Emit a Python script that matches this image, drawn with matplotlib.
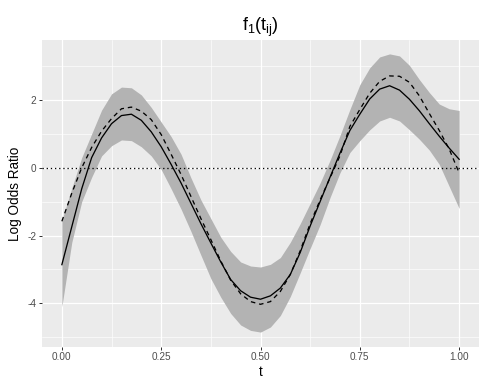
import numpy as np
import matplotlib
matplotlib.use("Agg")
import matplotlib.pyplot as plt
from matplotlib.ticker import FixedLocator

# grid of t values the curves were read at
t = [0.000, 0.025, 0.050, 0.075, 0.100, 0.125, 0.150, 0.175, 0.200, 0.225,
     0.250, 0.275, 0.300, 0.325, 0.350, 0.375, 0.400, 0.425, 0.450, 0.475,
     0.500, 0.525, 0.550, 0.575, 0.600, 0.625, 0.650, 0.675, 0.700, 0.725,
     0.750, 0.775, 0.800, 0.825, 0.850, 0.875, 0.900, 0.925, 0.950, 0.975,
     1.000]

# posterior mean estimate (solid)
estimate = [-2.86, -1.74, -0.62, 0.30, 0.88, 1.30, 1.54, 1.58, 1.40, 1.06,
            0.62, 0.10, -0.45, -1.05, -1.65, -2.22, -2.78, -3.30, -3.63, -3.82,
            -3.88, -3.78, -3.55, -3.15, -2.50, -1.72, -1.00, -0.28, 0.43, 1.10,
            1.58, 2.03, 2.32, 2.42, 2.29, 2.02, 1.68, 1.30, 0.93, 0.58,
            0.25]

# true function (dashed)
truth = [-1.58, -0.75, 0.00, 0.60, 1.08, 1.45, 1.74, 1.79, 1.67, 1.42,
         0.98, 0.40, -0.20, -0.85, -1.50, -2.12, -2.75, -3.32, -3.72, -3.95,
         -4.03, -3.95, -3.65, -3.15, -2.45, -1.65, -0.95, -0.30, 0.35, 1.22,
         1.72, 2.20, 2.55, 2.71, 2.70, 2.52, 2.12, 1.60, 1.10, 0.55,
         -0.15]

# credible band
upper = [-1.55, -0.60, 0.30, 1.00, 1.70, 2.18, 2.38, 2.36, 2.15, 1.78,
         1.35, 0.92, 0.40, -0.30, -0.95, -1.50, -2.05, -2.47, -2.78, -2.90,
         -2.93, -2.85, -2.65, -2.20, -1.65, -1.05, -0.45, 0.22, 0.95, 1.72,
         2.45, 2.95, 3.27, 3.36, 3.30, 3.02, 2.60, 2.22, 1.88, 1.74,
         1.69]
lower = [-4.10, -2.20, -1.00, -0.28, 0.35, 0.65, 0.82, 0.80, 0.62, 0.35,
         -0.05, -0.62, -1.22, -1.88, -2.58, -3.27, -3.82, -4.30, -4.64, -4.80,
         -4.85, -4.70, -4.36, -3.80, -3.10, -2.38, -1.68, -0.88, -0.15, 0.45,
         0.80, 1.12, 1.38, 1.49, 1.38, 1.12, 0.84, 0.52, 0.10, -0.55,
         -1.20]

x_ticks = [0.0, 0.25, 0.5, 0.75, 1.0]
x_labels = ["0.00", "0.25", "0.50", "0.75", "1.00"]
y_ticks = [-4, -2, 0, 2]
y_labels = ["-4", "-2", "0", "2"]

plt.rcParams["font.family"] = ["Liberation Sans", "DejaVu Sans"]
plt.rcParams["axes.unicode_minus"] = False

fig = plt.figure(figsize=(6.75, 390 / 72), dpi=72)
ax = fig.add_axes([42 / 486, 43 / 390, 437 / 486, 307 / 390])
ax.set_facecolor("#EBEBEB")
for s in ax.spines.values():
    s.set_visible(False)

ax.set_xlim(-0.05, 1.05)
ax.set_ylim(-5.29, 3.77)

ax.xaxis.set_major_locator(FixedLocator(x_ticks))
ax.xaxis.set_minor_locator(FixedLocator([0.125, 0.375, 0.625, 0.875]))
ax.yaxis.set_major_locator(FixedLocator(y_ticks))
ax.yaxis.set_minor_locator(FixedLocator([-5, -3, -1, 1, 3]))
ax.set_xticklabels(x_labels)
ax.set_yticklabels(y_labels)

ax.grid(which="major", color="white", lw=1.2)
ax.grid(which="minor", color="white", lw=0.6)
ax.set_axisbelow(True)
ax.tick_params(which="major", length=3, width=1.0, color="#333333",
               labelcolor="#4D4D4D", labelsize=10, pad=2.5)
ax.tick_params(which="minor", length=0)

ax.fill_between(t, lower, upper, color="#B3B3B3", lw=0, zorder=2)
ax.axhline(0, color="black", lw=1.3, ls=(0, (1, 2.2)), zorder=3)
ax.plot(t, truth, color="black", lw=1.3, ls=(0, (3.5, 3)), zorder=4,
        solid_joinstyle="round")
ax.plot(t, estimate, color="black", lw=1.3, zorder=5, solid_joinstyle="round")

ax.set_xlabel("t", fontsize=13.5, labelpad=2)
ax.set_ylabel("Log Odds Ratio", fontsize=13.5, labelpad=5)
ax.set_title(r"$\mathregular{f_1(t_{ij})}$", fontsize=18, pad=9)

fig.savefig("out.png", dpi=72)
